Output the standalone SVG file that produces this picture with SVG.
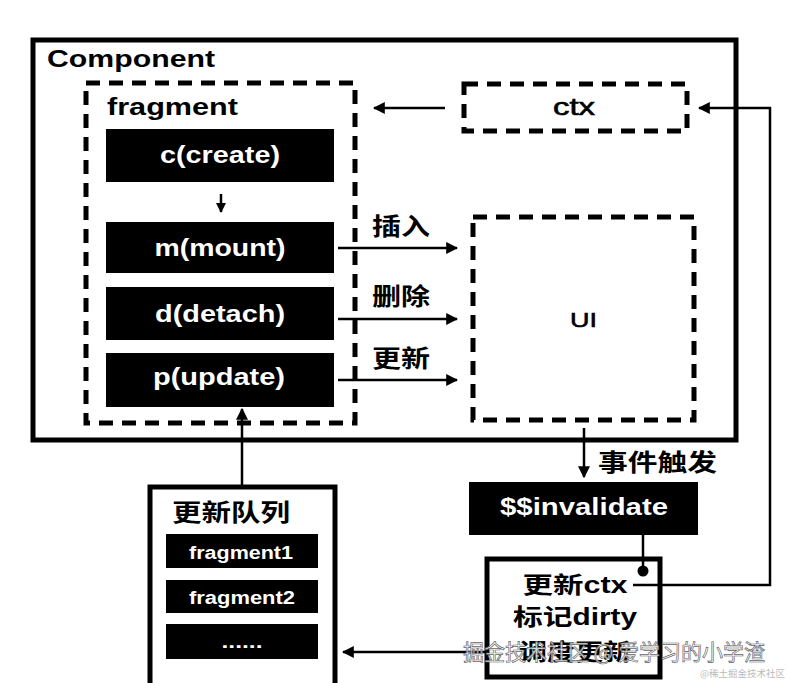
<svg xmlns="http://www.w3.org/2000/svg" width="787" height="683" viewBox="0 0 787 683">
<defs>
<style>
.t{font-family:"Liberation Sans","Noto Sans CJK SC",sans-serif;font-weight:bold;}
.blk{fill:#000;}
.wt{fill:#fff;font-size:23px;text-anchor:middle;}
.dash{fill:none;stroke:#000;stroke-width:5;stroke-dasharray:14 9;}
.ln{fill:none;stroke:#000;stroke-width:2.5;}
.med{font-family:"Liberation Sans",sans-serif;stroke:#000;stroke-width:0.6;text-anchor:middle;}
</style>
<marker id="ah" viewBox="0 0 10 10" refX="9" refY="5" markerWidth="10" markerHeight="10" markerUnits="userSpaceOnUse" orient="auto">
<path d="M0,0 L10,5 L0,10 z" fill="#000"/>
</marker>
<marker id="ahb" viewBox="0 0 10 10" refX="9" refY="5" markerWidth="12" markerHeight="12" markerUnits="userSpaceOnUse" orient="auto">
<path d="M0,0 L10,5 L0,10 z" fill="#000"/>
</marker>
</defs>
<rect width="787" height="683" fill="#fff"/>

<g id="component">
<rect x="33" y="40" width="703" height="400" fill="none" stroke="#000" stroke-width="5"/>
<text class="t" x="47" y="67" font-size="24" textLength="168" lengthAdjust="spacingAndGlyphs">Component</text>
</g>

<g id="fragment">
<rect x="86" y="83" width="269" height="340" class="dash"/>
<text class="t" x="107" y="115" font-size="24" textLength="131" lengthAdjust="spacingAndGlyphs">fragment</text>
</g>

<g id="create">
<rect x="106" y="129" width="228" height="53" class="blk"/>
<text class="t wt" x="220" y="163" textLength="120" lengthAdjust="spacingAndGlyphs">c(create)</text>
</g>
<g id="mount">
<rect x="106" y="222" width="228" height="51" class="blk"/>
<text class="t wt" x="220" y="256" textLength="131" lengthAdjust="spacingAndGlyphs">m(mount)</text>
</g>
<g id="detach">
<rect x="106" y="287" width="228" height="53" class="blk"/>
<text class="t wt" x="220" y="322" textLength="130" lengthAdjust="spacingAndGlyphs">d(detach)</text>
</g>
<g id="update">
<rect x="106" y="353" width="228" height="54" class="blk"/>
<text class="t wt" x="219" y="385" textLength="132" lengthAdjust="spacingAndGlyphs">p(update)</text>
</g>

<g id="ctx">
<rect x="464" y="84" width="223" height="47" class="dash"/>
<text class="med" x="574" y="115" font-size="23" textLength="42" lengthAdjust="spacingAndGlyphs">ctx</text>
</g>

<g id="ui">
<rect x="473" y="217" width="221" height="203" class="dash"/>
<text class="med" x="583.5" y="327" font-size="21" textLength="27" lengthAdjust="spacingAndGlyphs">UI</text>
</g>

<g id="invalidate">
<rect x="469" y="482" width="229" height="53" class="blk"/>
<text class="t wt" x="584" y="515" textLength="168" lengthAdjust="spacingAndGlyphs">$$invalidate</text>
</g>

<g id="schedule">
<rect x="487" y="559" width="173" height="118" fill="#fff" stroke="#000" stroke-width="5"/>
<text class="t" x="575" y="593" font-size="23" text-anchor="middle" textLength="105" lengthAdjust="spacingAndGlyphs">更新ctx</text>
<text class="t" x="575" y="625" font-size="23" text-anchor="middle" textLength="124" lengthAdjust="spacingAndGlyphs">标记dirty</text>
<text class="t" x="575" y="660" font-size="23" text-anchor="middle" textLength="112" lengthAdjust="spacingAndGlyphs">调度更新</text>
</g>

<g id="queue">
<rect x="150" y="487" width="185" height="200" fill="#fff" stroke="#000" stroke-width="5"/>
<text class="t" x="172" y="521" font-size="24" textLength="118" lengthAdjust="spacingAndGlyphs">更新队列</text>
<rect x="166" y="534" width="152" height="34" class="blk"/>
<text class="t" x="241" y="559" font-size="18" fill="#fff" text-anchor="middle" textLength="104" lengthAdjust="spacingAndGlyphs">fragment1</text>
<rect x="166" y="580" width="152" height="33" class="blk"/>
<text class="t" x="242" y="604" font-size="18" fill="#fff" text-anchor="middle" textLength="106" lengthAdjust="spacingAndGlyphs">fragment2</text>
<rect x="166" y="624" width="152" height="35" class="blk"/>
<text class="t" x="242" y="648" font-size="18" fill="#fff" text-anchor="middle" textLength="41" lengthAdjust="spacingAndGlyphs">......</text>
</g>

<g id="connectors">
<line x1="221" y1="194" x2="221" y2="212" class="ln" marker-end="url(#ah)"/>
<line x1="338" y1="248" x2="457" y2="248" class="ln" marker-end="url(#ahb)"/>
<line x1="338" y1="319" x2="457" y2="319" class="ln" marker-end="url(#ahb)"/>
<line x1="338" y1="380" x2="457" y2="380" class="ln" marker-end="url(#ahb)"/>
<text class="t" x="372" y="235" font-size="24" textLength="58" lengthAdjust="spacingAndGlyphs">插入</text>
<text class="t" x="372" y="305" font-size="24" textLength="58" lengthAdjust="spacingAndGlyphs">删除</text>
<text class="t" x="372" y="367" font-size="24" textLength="58" lengthAdjust="spacingAndGlyphs">更新</text>
<line x1="445" y1="108" x2="374" y2="108" class="ln" marker-end="url(#ahb)"/>
<polyline points="633,585 770,585 770,108 699,108" class="ln" marker-end="url(#ahb)"/>
<line x1="584" y1="428" x2="584" y2="477" class="ln" marker-end="url(#ahb)"/>
<text class="t" x="598" y="471" font-size="24" textLength="119" lengthAdjust="spacingAndGlyphs">事件触发</text>
<line x1="643" y1="535" x2="643" y2="570" class="ln"/>
<circle cx="643" cy="571" r="5.5" fill="#000"/>
<line x1="487" y1="652" x2="343" y2="652" class="ln" marker-end="url(#ahb)"/>
<line x1="242" y1="485" x2="242" y2="409" class="ln" marker-end="url(#ahb)"/>
</g>

<g id="watermark">
<text x="463" y="660" font-family="Noto Sans CJK SC, sans-serif" font-size="22" fill="#fff" fill-opacity="0.85" stroke="#666" stroke-width="0.7" textLength="302" lengthAdjust="spacingAndGlyphs">掘金技术社区 @ 爱学习的小学渣</text>
<text x="700" y="677" font-family="Noto Sans CJK SC, sans-serif" font-size="9.5" fill="#bbb">@稀土掘金技术社区</text>
</g>
</svg>
